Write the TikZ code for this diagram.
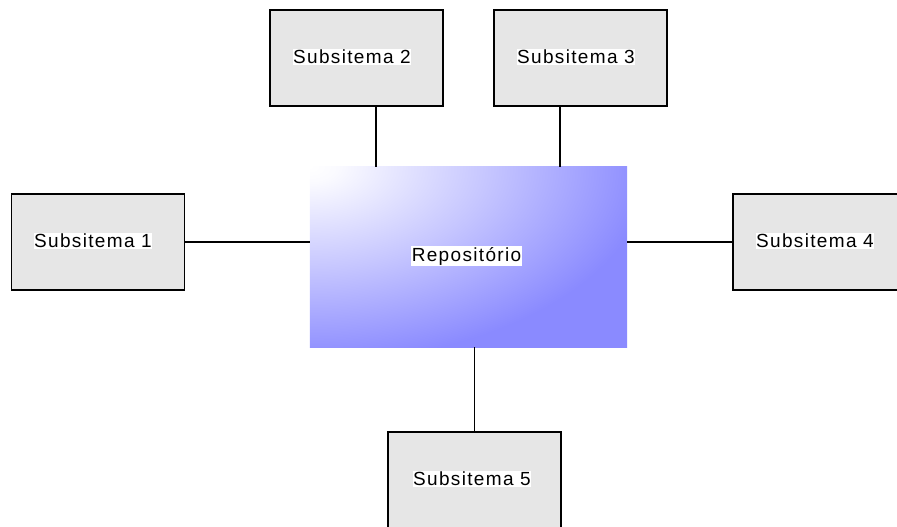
\documentclass[tikz,border=0pt]{standalone}
\usepackage{fontspec}
\newfontfamily\labelfont{Liberation Sans}[LetterSpace=7]
\definecolor{boxgray}{RGB}{230,230,230}
\definecolor{repoblue}{RGB}{138,138,255}
\definecolor{repomid}{RGB}{198,198,255}
% elliptical glow: white at the centre, full blue at half the shaded radius
\pgfdeclareradialshading{repoglow}{\pgfpoint{0bp}{0bp}}{%
  color(0bp)=(white); color(1bp)=(white!96!repoblue);
  color(6.5bp)=(repomid); color(12.5bp)=(repoblue); color(50bp)=(repoblue)}
\tikzset{
  subsys/.style={draw=black, line width=1.4pt, fill=boxgray,
    minimum width=173pt, minimum height=96pt, inner sep=0pt},
  tag/.style={fill=white, inner sep=0.6pt, font=\labelfont\fontsize{19}{21}\selectfont},
  link/.style={draw=black, line width=1.4pt},
}
\begin{document}
\begin{tikzpicture}[x=1pt, y=-1pt]
\useasboundingbox (0,0) rectangle (897,527);

% central repository with its soft gradient
\node[minimum width=317pt, minimum height=180pt, inner sep=0pt] (repo) at (468.5,257) {};
\begin{scope}
  \clip (repo.south west) rectangle (repo.north east);
  \fill[repoblue] (repo.south west) rectangle (repo.north east);
  \shade[shading=repoglow] (repo.north west) ellipse [x radius=680pt, y radius=390pt];
\end{scope}
\node[tag] (repotxt) at (466.5,256) {Repositório};

% the five subsystems
\node[subsys] (sub1) at (98,242) {};
\node[subsys] (sub2) at (356.5,58) {};
\node[subsys] (sub3) at (580.5,58) {};
\node[subsys] (sub4) at (819.5,242) {};
\node[subsys] (sub5) at (474.5,480) {};

\node[tag] (t1) at (93,241) {Subsitema 1};
\node[tag] (t2) at (352,57) {Subsitema 2};
\node[tag] (t3) at (576,57) {Subsitema 3};
\node[tag] (t4) at (815,241) {Subsitema 4};
\node[tag] (t5) at (472,479) {Subsitema 5};

% attachment points on the repository's top edge
\coordinate (a2) at (376,0);
\coordinate (a3) at (560,0);

\draw[link] (sub1.east) -- (sub1.east -| repo.west);
\draw[link] (sub4.west) -- (sub4.west -| repo.east);
\draw[link] (sub2.south -| a2) -- (repo.north -| a2);
\draw[link] (sub3.south -| a3) -- (repo.north -| a3);
\draw[link] (sub5.north) -- (sub5.north |- repo.south);
\end{tikzpicture}
\end{document}
